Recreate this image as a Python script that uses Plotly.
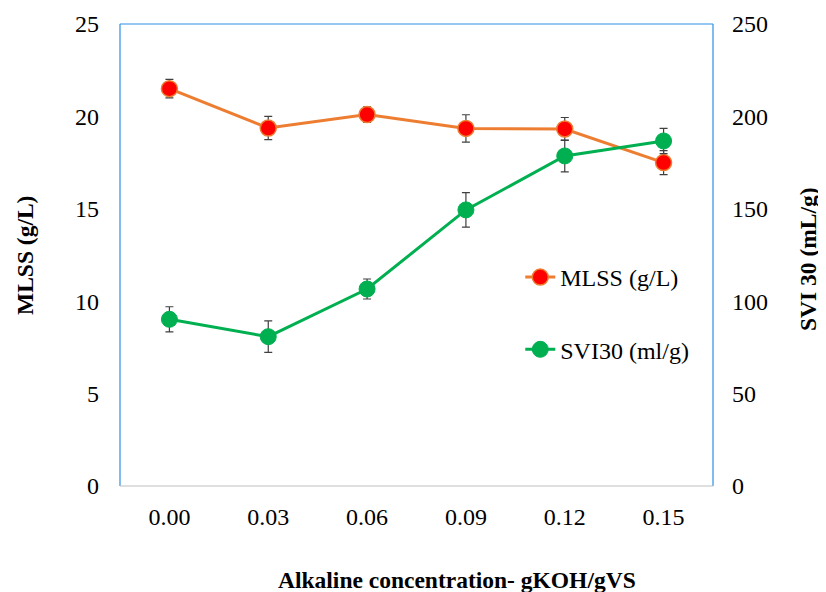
import plotly.graph_objects as go

categories = ["0.00", "0.03", "0.06", "0.09", "0.12", "0.15"]
mlss = [21.5, 19.37, 20.1, 19.35, 19.32, 17.5]
mlss_err = [0.5, 0.63, 0.42, 0.74, 0.62, 0.65]
svi = [90.2, 80.8, 106.6, 149.4, 178.6, 186.7]
svi_err = [6.8, 8.5, 5.4, 9.3, 8.6, 6.8]

FONT = "Liberation Serif"

fig = go.Figure()
fig.add_trace(go.Scatter(
    x=categories, y=mlss, name="MLSS (g/L)", mode="lines+markers",
    line=dict(color="#ED7D31", width=3),
    marker=dict(color="#FF0000", size=16, line=dict(color="#ED7D31", width=1.5)),
    error_y=dict(type="data", array=mlss_err, color="#404040", thickness=1.2, width=4),
    legendgroup="a", yaxis="y"))
fig.add_trace(go.Scatter(
    x=categories, y=svi, name="SVI30 (ml/g)", mode="lines+markers",
    line=dict(color="#00B050", width=3),
    marker=dict(color="#00B050", size=16, line=dict(color="#00B050", width=1)),
    error_y=dict(type="data", array=svi_err, color="#404040", thickness=1.2, width=4),
    legendgroup="b", yaxis="y2"))

fig.update_layout(
    width=826, height=592,
    margin=dict(l=112, r=121, t=16, b=114),
    paper_bgcolor="white", plot_bgcolor="white",
    font=dict(family=FONT, size=24, color="black"),
    showlegend=True,
    legend=dict(x=0.675, y=0.50, xanchor="left", yanchor="top",
                font=dict(family=FONT, size=24), tracegroupgap=38,
                traceorder="grouped", bgcolor="rgba(0,0,0,0)"),
    xaxis=dict(type="category", range=[-0.5, 5.5], showgrid=False, zeroline=False,
               automargin=False, showline=False, ticks="", ticklabelstandoff=14,
               tickfont=dict(family=FONT, size=24)),
    yaxis=dict(range=[0, 25], tickvals=[0, 5, 10, 15, 20, 25], showgrid=False,
               zeroline=False, showline=False, ticks="", ticklabelstandoff=20,
               automargin=False, tickfont=dict(family=FONT, size=24)),
    yaxis2=dict(range=[0, 250], tickvals=[0, 50, 100, 150, 200, 250], overlaying="y",
                side="right", showgrid=False, zeroline=False, showline=False,
                ticks="", ticklabelstandoff=18, automargin=False,
                tickfont=dict(family=FONT, size=24)),
    annotations=[
        dict(text="<b>MLSS (g/L)</b>", xref="paper", yref="paper",
             x=-0.160, y=0.498, textangle=-90, showarrow=False,
             xanchor="center", yanchor="middle", font=dict(family=FONT, size=23.5)),
        dict(text="<b>SVI 30 (mL/g)</b>", xref="paper", yref="paper",
             x=1.160, y=0.491, textangle=-90, showarrow=False,
             xanchor="center", yanchor="middle", font=dict(family=FONT, size=23.5)),
        dict(text="<b>Alkaline concentration- gKOH/gVS</b>", xref="paper", yref="paper",
             x=0.568, y=-0.203, showarrow=False,
             xanchor="center", yanchor="middle", font=dict(family=FONT, size=23.5)),
    ],
    shapes=[
        dict(type="line", xref="paper", yref="paper", x0=0, x1=0, y0=0, y1=1,
             line=dict(color="#2E8FE8", width=1.2)),
        dict(type="line", xref="paper", yref="paper", x0=1, x1=1, y0=0, y1=1,
             line=dict(color="#2E8FE8", width=1.2)),
        dict(type="line", xref="paper", yref="paper", x0=0, x1=1, y0=1, y1=1,
             line=dict(color="#2E8FE8", width=1.2)),
        dict(type="line", xref="paper", yref="paper", x0=0, x1=1, y0=0, y1=0,
             line=dict(color="#BFBFBF", width=1.2)),
    ],
)

fig.write_html("out.html")
